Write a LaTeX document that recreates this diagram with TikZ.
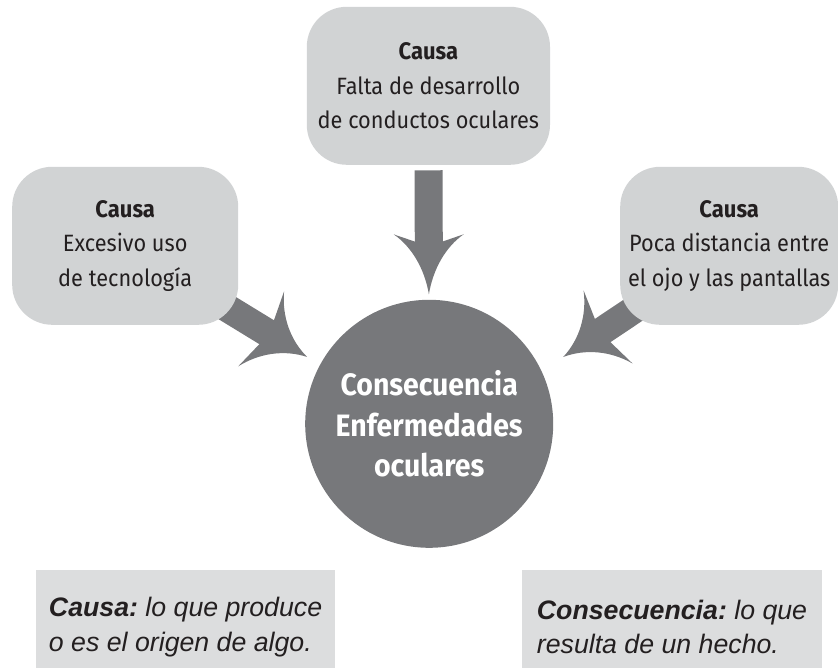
\documentclass[tikz,border=0pt]{standalone}
\usepackage{fontspec}
\setmainfont[FakeStretch=0.92]{Fira Sans}
\newfontfamily\notefont{Liberation Sans}
\usetikzlibrary{arrows.meta,backgrounds}
\frenchspacing

\definecolor{boxgrey}{HTML}{D1D3D4}
\definecolor{notegrey}{HTML}{DCDDDE}
\definecolor{flowgrey}{HTML}{77787B}
\definecolor{inkdark}{HTML}{231F20}

\newdimen\flareshaft
\pgfdeclarearrow{
  name = Flare,
  parameters = {\the\pgfarrowlength,\the\pgfarrowwidth,\the\pgflinewidth},
  setup code = {
    \flareshaft=\pgflinewidth
    \pgfarrowssettipend{0pt}
    \pgfarrowssetlineend{-.8\pgfarrowlength}
    \pgfarrowssetbackend{-\pgfarrowlength}
    \pgfarrowshullpoint{0pt}{0pt}
    \pgfarrowsupperhullpoint{-\pgfarrowlength}{.5\pgfarrowwidth}
    \pgfarrowssavethe\pgfarrowlength
    \pgfarrowssavethe\pgfarrowwidth
    \pgfarrowssavethe\flareshaft
  },
  drawing code = {
    \pgfpathmoveto{\pgfpointorigin}
    \pgfpathcurveto{\pgfpoint{-.42\pgfarrowlength}{.06\pgfarrowwidth}}{\pgfpoint{-.79\pgfarrowlength}{.24\pgfarrowwidth}}{\pgfpoint{-\pgfarrowlength}{.5\pgfarrowwidth}}
    \pgfpathlineto{\pgfpoint{-.88\pgfarrowlength}{.5\flareshaft}}
    \pgfpathlineto{\pgfpoint{-.88\pgfarrowlength}{-.5\flareshaft}}
    \pgfpathlineto{\pgfpoint{-\pgfarrowlength}{-.5\pgfarrowwidth}}
    \pgfpathcurveto{\pgfpoint{-.79\pgfarrowlength}{-.24\pgfarrowwidth}}{\pgfpoint{-.42\pgfarrowlength}{-.06\pgfarrowwidth}}{\pgfpointorigin}
    \pgfpathclose
    \pgfusepathqfill
  },
  defaults = {length = 1.5cm, width = 1.75cm}
}

\tikzset{
  cause/.style={fill=boxgrey, rounded corners=1cm, minimum height=3.95cm, align=center, text=inkdark, font=\fontsize{16.8}{24.5}\selectfont},
  note/.style={fill=notegrey, minimum height=2.85cm, align=left, text=inkdark, font=\notefont\itshape\fontsize{19}{24.5}\selectfont},
  flow/.style={line width=0.7cm, color=flowgrey, -Flare},
}
\newcommand\causa{{\bfseries\fontsize{17}{24.5}\selectfont Causa}}

\begin{document}
\begin{tikzpicture}
	%%%%% START %%%%%
	\useasboundingbox (0, 0) rectangle (20.95, 16.675);
	
	\node[cause, minimum width=6.08cm] (tbox) at (10.71, 14.53) {\causa\\Falta de desarrollo\\de conductos oculares};
	\node[cause, minimum width=5.65cm] (lbox) at (3.13, 10.53) {\causa\\Excesivo uso\\de tecnología};
	\node[cause, minimum width=5.45cm] (rbox) at (18.23, 10.53) {\causa\\Poca distancia entre\\el ojo y las pantallas};
	
	\node[circle, fill=flowgrey, minimum size=6.2cm, align=center, text=white, font=\bfseries\fontsize{22}{29}\selectfont] (cons) at (10.73, 6.08) {Consecuencia\\Enfermedades\\oculares};
	
	\coordinate (ltip) at (7.68, 7.75);
	\coordinate (rtip) at (14.08, 7.75);
	
	\begin{pgfonlayer}{background}
		\draw[flow, shorten <=-0.5cm, -{Flare[length=1.35cm, width=2.2cm]}] (lbox) -- (ltip);
		\draw[flow, shorten <=-0.5cm, -{Flare[length=1.35cm, width=2.2cm]}] (rbox) -- (rtip);
	\end{pgfonlayer}
	\draw[flow, shorten <=0.13cm, shorten >=0.13cm] (tbox) -- (cons);
	
	\node[note, minimum width=7.48cm] (cnote) at (4.64, 1.0) {\textbf{Causa:} lo que produce\\o es el origen de algo.};
	\node[note, minimum width=7.5cm] (knote) at (16.8, 1.0) {\textbf{Consecuencia:} lo que\\resulta de un hecho.};
	
	%%%%% END %%%%%
\end{tikzpicture}
\end{document}
